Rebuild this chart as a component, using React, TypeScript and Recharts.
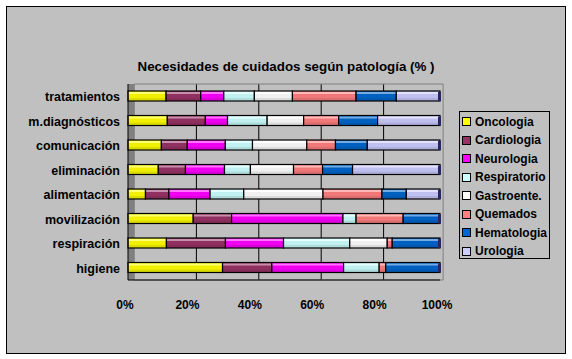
import React from 'react';
import { BarChart, Bar, XAxis, YAxis, CartesianGrid, ReferenceArea } from 'recharts';

const CATEGORIES = ['tratamientos', 'm.diagnósticos', 'comunicación', 'eliminación', 'alimentación', 'movilización', 'respiración', 'higiene'];
const SERIES = ['Oncologia', 'Cardiologia', 'Neurologia', 'Respiratorio', 'Gastroente.', 'Quemados', 'Hematologia', 'Urologia'];
const COLORS = ['#FFFF00', '#993366', '#FF00FF', '#CCFFFF', '#FFFFFF', '#FF8080', '#0066CC', '#CCCCFF'];

// % per category, same order as CATEGORIES
const oncologia = [12.2, 12.6, 10.7, 9.7, 5.6, 20.9, 12.3, 30.3];
const cardiologia = [11.1, 12.2, 8.3, 8.7, 7.5, 12.3, 18.9, 15.8];
const neurologia = [7.4, 7.1, 12.2, 12.5, 13.2, 35.7, 18.6, 23.0];
const respiratorio = [9.8, 12.7, 8.7, 8.3, 10.8, 4.2, 21.2, 11.4];
const gastroente = [12.2, 11.7, 17.4, 13.8, 25.4, 0, 12.0, 0];
const quemados = [20.4, 11.2, 9.2, 9.3, 18.9, 15.1, 1.6, 2.1];
const hematologia = [12.9, 12.5, 10.2, 9.6, 7.8, 11.8, 15.3, 17.4];
const urologia = [14.0, 20.0, 23.3, 28.0, 10.8, 0, 0, 0];

const VALUES = [oncologia, cardiologia, neurologia, respiratorio, gastroente, quemados, hematologia, urologia];
const X_TICKS = [0, 0.2, 0.4, 0.6, 0.8, 1];

const rows = CATEGORIES.map((cat, r) => {
  const row: Record<string, any> = { cat };
  SERIES.forEach((s, i) => { row[s] = VALUES[i][r]; });
  return row;
});

const FONT = '"Liberation Sans", Arial, sans-serif';

function mix(hex: string, to: number, amt: number) {
  const n = parseInt(hex.slice(1), 16);
  const c = [(n >> 16) & 255, (n >> 8) & 255, n & 255].map(v => Math.round(v + (to - v) * amt));
  return `rgb(${c[0]},${c[1]},${c[2]})`;
}

// flat-ish 3D segment: light top edge, darker lower band, black outline
const Segment = (p: any) => {
  const { x, y, width, height, si, index } = p;
  if (!width || width <= 0) return null;
  const col = COLORS[si];
  const isLast = VALUES.slice(si + 1).every(v => !v[index]);
  return (
    <g>
      <rect x={x} y={y} width={width} height={height} fill={mix(col, 0, 0.06)} />
      <rect x={x} y={y + 1} width={width} height={2} fill={mix(col, 255, 0.45)} />
      <rect x={x} y={y + height - 3} width={width} height={3} fill={mix(col, 0, 0.14)} />
      <rect x={x} y={y} width={width} height={height} fill="none" stroke="#000" strokeWidth={1.2} />
      {isLast && <rect x={x + width - 2} y={y + 1} width={3} height={height - 1} fill="#262660" />}
    </g>
  );
};

const XTick = ({ x, y, payload }: any) => (
  <text x={x - 3} y={y + 21} textAnchor="middle" fontFamily={FONT} fontWeight="bold" fontSize={12} fill="#000">
    {Math.round(payload.value * 100)}%
  </text>
);

const YTick = ({ x, y, payload }: any) => (
  <text x={x} y={y + 5} textAnchor="end" fontFamily={FONT} fontWeight="bold" fontSize={12.5} fill="#000">
    {payload.value}
  </text>
);

export default function App() {
  return (
    <div style={{ position: 'absolute', left: 0, top: 0, width: 572, height: 359, background: '#fff' }}>
      <div style={{ position: 'absolute', left: 6, top: 6, width: 560, height: 348, boxSizing: 'border-box', border: '1px solid #000', background: '#C0C0C0' }} />
      <div style={{ position: 'absolute', left: 6, top: 59, width: 560, textAlign: 'center', fontFamily: FONT, fontWeight: 'bold', fontSize: 13.33, lineHeight: '16px', color: '#000' }}>
        Necesidades de cuidados según patología (% )
      </div>
      <div style={{ position: 'absolute', left: 0, top: 0 }}>
        <BarChart width={572} height={359} data={rows} layout="vertical" stackOffset="expand" barSize={10}
          margin={{ top: 84, right: 132, bottom: 49, left: 28 }}>
          <ReferenceArea x1={0.02} x2={1.01} fill="none" stroke="#808080" ifOverflow="visible" />
          <CartesianGrid horizontal={false} stroke="#000"
            verticalCoordinatesGenerator={({ offset }: any) => [0.2, 0.4, 0.6, 0.8].map(t => offset.left + t * offset.width + 6)} />
          <ReferenceArea x1={0} x2={0.02} fill="#808080" fillOpacity={1} stroke="none" />
          <XAxis type="number" domain={[0, 1]} ticks={X_TICKS} height={30} tick={<XTick />} tickLine={false}
            axisLine={{ stroke: '#000' }} />
          <YAxis type="category" dataKey="cat" width={100} tick={<YTick />} tickLine={false} tickSize={0} tickMargin={8}
            axisLine={{ stroke: '#000' }} interval={0} />
          {SERIES.map((s, i) => (
            <Bar key={s} dataKey={s} stackId="a" fill={COLORS[i]} isAnimationActive={false}
              shape={(p: any) => <Segment {...p} si={i} />} />
          ))}
        </BarChart>
      </div>
      <div style={{ position: 'absolute', left: 459, top: 111, width: 91, height: 148, boxSizing: 'border-box', border: '1px solid #000' }}>
        {SERIES.map((s, i) => (
          <div key={s} style={{ position: 'absolute', left: 2, top: 1 + i * 18.5, height: 17, display: 'flex', alignItems: 'center', fontFamily: FONT, fontWeight: 'bold', fontSize: 12, color: '#000' }}>
            <span style={{ display: 'inline-block', width: 7, height: 7, border: '1px solid #000', background: COLORS[i], marginRight: 4 }} />
            {s}
          </div>
        ))}
      </div>
    </div>
  );
}
